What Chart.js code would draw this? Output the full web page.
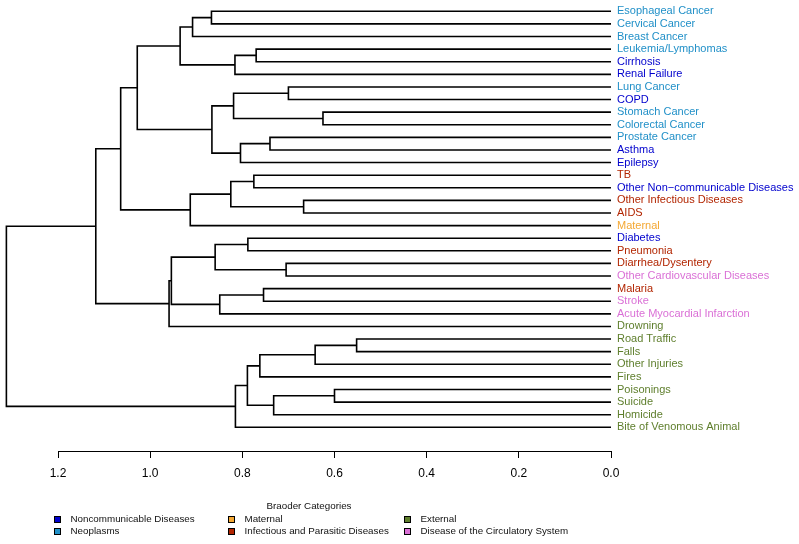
<!DOCTYPE html>
<html>
<head>
<meta charset="utf-8">
<script src="https://cdn.jsdelivr.net/npm/chart.js@4"></script>
<style>
  body { margin: 0; background: #fff; }
  canvas { display: block; }
</style>
</head>
<body>
<canvas id="dendro" width="799" height="544"></canvas>
<script>
// leaves, top to bottom
const leafLabels = [
  'Esophageal Cancer', 'Cervical Cancer', 'Breast Cancer', 'Leukemia/Lymphomas',
  'Cirrhosis', 'Renal Failure', 'Lung Cancer', 'COPD', 'Stomach Cancer',
  'Colorectal Cancer', 'Prostate Cancer', 'Asthma', 'Epilepsy', 'TB',
  'Other Non\u2212communicable Diseases', 'Other Infectious Diseases', 'AIDS', 'Maternal',
  'Diabetes', 'Pneumonia', 'Diarrhea/Dysentery', 'Other Cardiovascular Diseases',
  'Malaria', 'Stroke', 'Acute Myocardial Infarction', 'Drowning', 'Road Traffic',
  'Falls', 'Other Injuries', 'Fires', 'Poisonings', 'Suicide', 'Homicide',
  'Bite of Venomous Animal'
];
// broader category of each leaf (index into categoryNames)
const leafGroups = [
  1, 1, 1, 1, 0, 0, 1, 0, 1, 1, 1, 0, 0, 3, 0, 3, 3, 2,
  0, 3, 3, 5, 3, 5, 5, 4, 4, 4, 4, 4, 4, 4, 4, 4
];
const categoryNames = [
  'Noncommunicable Diseases', 'Neoplasms', 'Maternal',
  'Infectious and Parasitic Diseases', 'External', 'Disease of the Circulatory System'
];
const categoryColors = ['#0000CD', '#2190C8', '#F4A833', '#B22500', '#5E7E2C', '#DA70D6'];

// hclust style merges: negative = leaf number, positive = earlier merge number
const mergePairs = [
  [-1, -2], [1, -3], [-4, -5], [3, -6], [2, 4],
  [-7, -8], [-9, -10], [6, 7], [-11, -12], [9, -13], [8, 10], [5, 11],
  [-14, -15], [-16, -17], [13, 14], [15, -18], [12, 16],
  [-19, -20], [-21, -22], [18, 19], [-23, -24], [21, -25], [20, 22], [23, -26],
  [17, 24],
  [-27, -28], [26, -29], [27, -30], [-31, -32], [29, -33], [28, 30], [31, -34],
  [25, 32]
];
const mergeHeights = [
  0.867, 0.908, 0.770, 0.816, 0.935,
  0.700, 0.625, 0.819, 0.740, 0.804, 0.866, 1.028,
  0.775, 0.667, 0.825, 0.913, 1.064,
  0.788, 0.705, 0.859, 0.754, 0.849, 0.954, 0.959,
  1.118,
  0.552, 0.642, 0.762, 0.600, 0.732, 0.789, 0.815,
  1.312
];
const heightTicks = [0, 0.2, 0.4, 0.6, 0.8, 1.0, 1.2];

Chart.defaults.font.family = '"Liberation Sans", Arial, Helvetica, sans-serif';
Chart.defaults.color = '#000';

// build the elbow segments
const nodes = [];
const getNode = (id) => id < 0 ? { h: 0, y: -id } : nodes[id - 1];
const datasets = [];
mergePairs.forEach((m, k) => {
  const a = getNode(m[0]);
  const b = getNode(m[1]);
  const h = mergeHeights[k];
  nodes.push({ h: h, y: (a.y + b.y) / 2 });
  datasets.push({
    data: [{ x: a.h, y: a.y }, { x: h, y: a.y }, { x: h, y: b.y }, { x: b.h, y: b.y }],
    showLine: true,
    borderColor: '#000',
    borderWidth: 1.6,
    pointRadius: 0,
    tension: 0,
    clip: false
  });
});

// legend below the axis
const legendBox = {
  id: 'legendBox',
  afterDraw(chart) {
    const ctx = chart.ctx;
    ctx.save();
    ctx.font = '9.8px "Liberation Sans", Arial, sans-serif';
    ctx.textBaseline = 'middle';
    ctx.fillStyle = '#111';
    ctx.textAlign = 'center';
    ctx.fillText('Braoder Categories', 309, 506);
    ctx.textAlign = 'left';
    const colX = [54, 228, 404];
    const rowY = [519.5, 531.5];
    categoryNames.forEach((name, i) => {
      const x = colX[Math.floor(i / 2)];
      const y = rowY[i % 2];
      ctx.fillStyle = categoryColors[i];
      ctx.fillRect(x, y - 3.5, 7, 7);
      ctx.strokeStyle = '#000';
      ctx.lineWidth = 1;
      ctx.strokeRect(x + 0.5, y - 3, 6, 6);
      ctx.fillStyle = '#111';
      ctx.fillText(name, x + 16.5, y);
    });
    ctx.restore();
  }
};

new Chart(document.getElementById('dendro'), {
  type: 'scatter',
  data: { datasets: datasets },
  options: {
    responsive: false,
    animation: false,
    events: [],
    layout: { padding: { left: 58, top: 0, right: 0, bottom: 0 } },
    plugins: { legend: { display: false }, tooltip: { enabled: false } },
    scales: {
      x: {
        type: 'linear',
        position: 'bottom',
        reverse: true,
        min: 0,
        max: 1.2,
        afterBuildTicks: (scale) => { scale.ticks = heightTicks.map(v => ({ value: v })); },
        afterFit: (scale) => { scale.height = 93; },
        grid: { drawOnChartArea: false, drawTicks: true, tickLength: 7, color: '#000', lineWidth: 1 },
        border: { display: true, color: '#000', width: 1 },
        ticks: {
          padding: 8,
          font: { size: 12 },
          color: '#000',
          callback: (v) => Number(v).toFixed(1)
        }
      },
      y: {
        type: 'linear',
        position: 'right',
        reverse: true,
        min: 0.104,
        max: 35.88,
        afterBuildTicks: (scale) => { scale.ticks = leafLabels.map((_, i) => ({ value: i + 1 })); },
        afterFit: (scale) => { scale.width = 188; scale.paddingTop = 0; scale.paddingBottom = 0; },
        grid: { display: false, drawTicks: false },
        border: { display: false },
        ticks: {
          autoSkip: false,
          padding: 6,
          font: { size: 11 },
          color: (c) => categoryColors[leafGroups[Math.round(c.tick.value) - 1]],
          callback: (v) => leafLabels[Math.round(v) - 1]
        }
      }
    }
  },
  plugins: [legendBox]
});
</script>
</body>
</html>
